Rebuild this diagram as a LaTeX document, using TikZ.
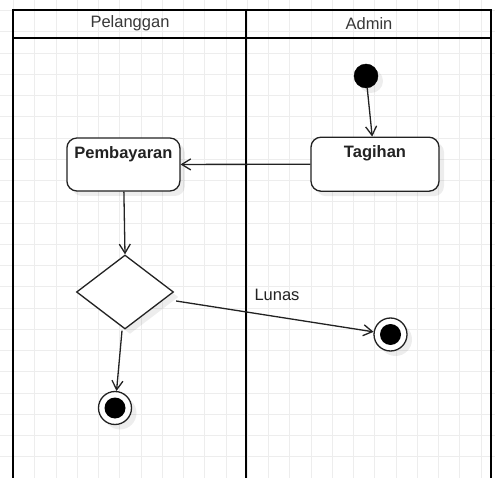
\documentclass[tikz,border=0pt]{standalone}
\usepackage{fontspec}
\setmainfont{Liberation Sans}
\usetikzlibrary{arrows.meta,shapes.geometric,shadows,calc}
\definecolor{gridc}{HTML}{EDEDED}
\definecolor{ink}{HTML}{222222}
\tikzset{
  lane/.style={draw=black,line width=2.3pt},
  hdr/.style={font=\fontsize{16.5}{19}\selectfont,text=ink!90,inner sep=0pt},
  shd/.style={drop shadow={shadow xshift=5pt,shadow yshift=-5pt,fill=black,opacity=0.07}},
  actbox/.style={draw=ink,line width=1.3pt,rounded corners=10pt,fill=white,shd,inner sep=0pt},
  boldtxt/.style={font=\fontsize{16.5}{19}\selectfont\bfseries,text=ink,inner sep=0pt},
  flow/.style={draw=ink,line width=1.3pt,-{Straight Barb[length=9pt,width=11pt,line width=1.3pt]}},
  startdot/.style={circle,fill=black,draw=black,minimum size=24pt,inner sep=0pt,shd},
  enddot/.style={circle,draw=ink,line width=1.3pt,fill=white,minimum size=33pt,inner sep=0pt,shd,
    path picture={\fill[black] (path picture bounding box.center) circle (10.5pt);}},
  decision/.style={diamond,draw=ink,line width=1.3pt,fill=white,inner sep=0pt,
    minimum width=97pt,minimum height=74pt,shape aspect=1.31,shd},
  lbl/.style={font=\fontsize{16.5}{19}\selectfont,text=ink,inner sep=0pt}
}
\begin{document}
\begin{tikzpicture}[x=1pt,y=-1pt]
\useasboundingbox (0,0) rectangle (495,478);
\clip (0,0) rectangle (495,478);
\fill[white] (0,0) rectangle (495,478);
% grid
\foreach \i in {-1,...,23} \draw[gridc,line width=0.8pt] (13.5+\i*21.25,0) -- (13.5+\i*21.25,478);
\foreach \j in {0,...,22} \draw[gridc,line width=0.8pt] (0,10.5+\j*21.25) -- (495,10.5+\j*21.25);
% swimlanes
\draw[lane] (13,10) rectangle (246,490);
\draw[lane] (13,38) -- (246,38);
\draw[lane] (246,10) rectangle (491,490);
\draw[lane] (246,38) -- (491,38);
\node[hdr] (h1) at (130,23.5) {Pelanggan};
\node[hdr] (h2) at (369,23.5) {Admin};
% nodes
\node[startdot] (start) at (366,76) {};
\node[actbox,minimum width=128pt,minimum height=54pt] (tag) at (375,164.2) {};
\node[boldtxt] (tagt) at ($(tag.north)+(0,17)$) {Tagihan};
\node[actbox,minimum width=113pt,minimum height=53pt] (pemb) at (123.4,164.5) {};
\node[boldtxt] (pembt) at ($(pemb.north)+(0,16.5)$) {Pembayaran};
\node[decision] (dec) at (125,292) {};
\node[enddot] (end1) at (390.5,334.5) {};
\node[enddot] (end2) at (115,408) {};
\coordinate (dx) at ($(dec.east)+(2,9)$);
% edges
\draw[flow] (start) -- (tag);
\draw[flow] (tag) -- (pemb);
\draw[flow] (pemb) -- (dec.north);
\draw[flow] (dx) -- (end1);
\draw[flow] ($(dec.south)+(-3,1)$) -- (end2);
\node[lbl] (lunas) at (277,295) {Lunas};
\end{tikzpicture}
\end{document}
